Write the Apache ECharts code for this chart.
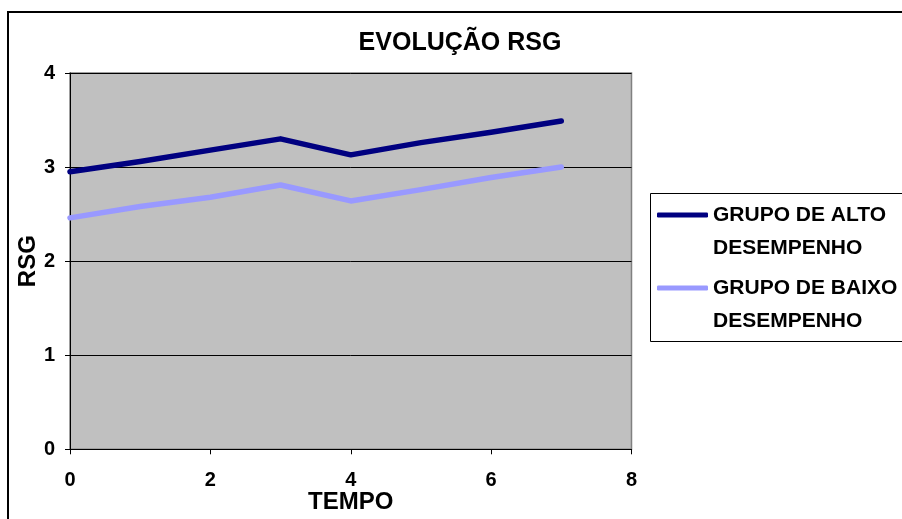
<!DOCTYPE html>
<html>
<head>
<meta charset="utf-8">
<script src="https://cdn.jsdelivr.net/npm/echarts@6/dist/echarts.min.js"></script>
<style>html,body{margin:0;padding:0;background:#fff;}#c{width:902px;height:519px;}</style>
</head>
<body>
<div id="c"></div>
<script>
var titleText = 'EVOLUÇÃO RSG';
var xName = 'TEMPO';
var yName = 'RSG';
var tempo = [0, 1, 2, 3, 4, 5, 6, 7];
var altoName = 'GRUPO DE ALTO\nDESEMPENHO';
var baixoName = 'GRUPO DE BAIXO\nDESEMPENHO';
var alto = [2.95, 3.06, 3.18, 3.30, 3.13, 3.26, 3.37, 3.49];
var baixo = [2.46, 2.58, 2.68, 2.81, 2.64, 2.76, 2.89, 3.00];

function pairs(xs, ys) { return xs.map(function (x, i) { return [x, ys[i]]; }); }

var font = 'Liberation Sans, Arial, sans-serif';
var chart = echarts.init(document.getElementById('c'));
var legendBase = {
  orient: 'vertical', left: 657, padding: 0, itemWidth: 51, itemHeight: 5,
  icon: 'roundRect', selectedMode: false,
  textStyle: { fontFamily: font, fontWeight: 'bold', fontSize: 21, color: '#000', lineHeight: 33 },
  formatter: function (n) { return '\n' + n; }
};
chart.setOption({
  animation: false,
  backgroundColor: '#fff',
  title: {
    text: titleText, left: 460, top: 31, textAlign: 'center', padding: 0,
    textStyle: { fontFamily: font, fontWeight: 'bold', fontSize: 25, color: '#000' }
  },
  graphic: [
    { type: 'rect', shape: { x: 8, y: 12, width: 1000, height: 600 }, style: { fill: 'none', stroke: '#000', lineWidth: 2 }, silent: true, z: -10 },
    { type: 'rect', shape: { x: 650.5, y: 193.5, width: 300, height: 148 }, style: { fill: 'none', stroke: '#000', lineWidth: 1 }, silent: true }
  ],
  legend: [
    Object.assign({}, legendBase, { top: 165.5, data: [altoName] }),
    Object.assign({}, legendBase, { top: 238.5, data: [baixoName] })
  ],
  grid: {
    left: 70, top: 73, width: 561.5, height: 376.3, show: true,
    outerBoundsMode: 'none', containLabel: false,
    backgroundColor: '#C0C0C0', borderColor: '#808080', borderWidth: 1.5
  },
  xAxis: {
    type: 'value', min: 0, max: 8, interval: 2,
    name: xName, nameLocation: 'middle', nameGap: 41, nameMoveOverlap: false,
    nameTextStyle: { fontFamily: font, fontWeight: 'bold', fontSize: 24, color: '#000' },
    axisLine: { show: true, onZero: false, lineStyle: { color: '#000', width: 1 } },
    axisTick: { show: true, length: 5, lineStyle: { color: '#000' } },
    axisLabel: { margin: 21, fontFamily: font, fontWeight: 'bold', fontSize: 20, color: '#000' },
    splitLine: { show: false }
  },
  yAxis: {
    type: 'value', min: 0, max: 4, interval: 1,
    name: yName, nameLocation: 'middle', nameGap: 30, nameMoveOverlap: false,
    nameTextStyle: { fontFamily: font, fontWeight: 'bold', fontSize: 24, color: '#000' },
    axisLine: { show: true, lineStyle: { color: '#000', width: 1 } },
    axisTick: { show: true, length: 5, lineStyle: { color: '#000' } },
    axisLabel: { margin: 15, fontFamily: font, fontWeight: 'bold', fontSize: 20, color: '#000' },
    splitLine: { show: true, lineStyle: { color: '#000', width: 1 } }
  },
  series: [
    { name: altoName, type: 'line', data: pairs(tempo, alto), showSymbol: false, symbol: 'none',
      lineStyle: { color: '#000080', width: 5.5, cap: 'round', join: 'round' }, itemStyle: { color: '#000080' } },
    { name: baixoName, type: 'line', data: pairs(tempo, baixo), showSymbol: false, symbol: 'none',
      lineStyle: { color: '#9999FF', width: 5.5, cap: 'round', join: 'round' }, itemStyle: { color: '#9999FF' } }
  ]
});
</script>
</body>
</html>
